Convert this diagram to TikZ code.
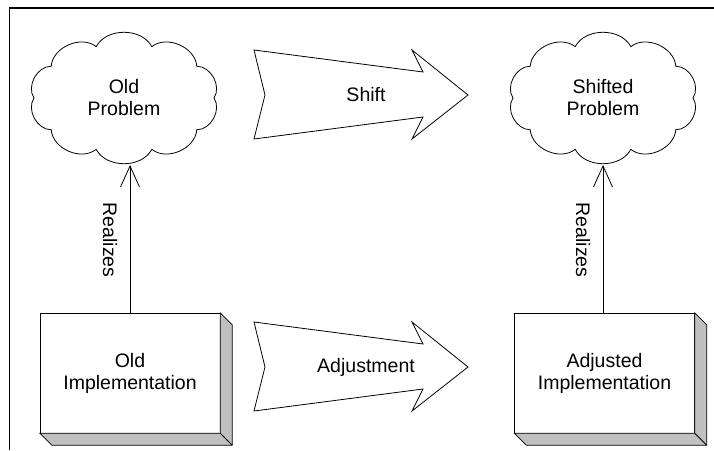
\documentclass[tikz,border=0pt]{standalone}
\usepackage{fontspec}
\setmainfont{Liberation Sans}
\usetikzlibrary{arrows.meta}
\definecolor{shade}{RGB}{192,192,192}
\tikzset{
  txt/.style={font=\fontsize{19.5}{22}\selectfont, align=center},
  cloudtext/.style={txt, minimum width=176pt, minimum height=110pt, inner sep=0pt},
  boxnode/.style={txt, draw, fill=white, minimum width=180pt, minimum height=120pt, inner sep=0pt},
  realize/.style={draw, line width=0.8pt, -{Straight Barb[length=21pt,width=19pt]}},
  fatline/.style={draw, line width=0.8pt},
}
\newcommand{\fatarrow}[1]{%
  \draw[fatline] (#1.center) +(-112,-45) -- +(-101,0) -- +(-112,44) -- +(57,22)
    -- +(46,44) -- +(102,0) -- +(46,-45) -- +(57,-23) -- cycle;}
\newcommand{\boxshade}[1]{%
  \draw[fatline, fill=shade] (#1.north east) -- ([shift={(12,12)}]#1.north east)
    -- ([shift={(12,12)}]#1.south east) -- ([shift={(12,12)}]#1.south west)
    -- (#1.south west) -- (#1.south east) -- cycle;
  \draw[fatline] (#1.south east) -- ([shift={(12,12)}]#1.south east);}
\newcommand{\cloudoutline}[1]{%
  \draw[fatline] (#1.center) +(0:90 and 54)
    \foreach \a in {36,72,...,360} { to[bend left=62] +(\a:90 and 54) };}
\begin{document}
\begin{tikzpicture}[x=1pt,y=-1pt]
\useasboundingbox (0,0) rectangle (714,450);
\coordinate (tl) at (9,8);
\coordinate (tr) at (714,8);
\coordinate (bl) at (9,450);
\draw[line width=2pt] (tl) -- (tr);
\draw[line width=1pt] (tl) -- (bl);

\node[cloudtext] (op) at (124,98) {Old\\Problem};
\node[cloudtext] (sp) at (603,98) {Shifted\\Problem};
\cloudoutline{op}
\cloudoutline{sp}

\node[boxnode] (oi) at (130,373) {Old\\Implementation};
\node[boxnode] (ai) at (604.5,373) {Adjusted\\Implementation};
\boxshade{oi}
\boxshade{ai}

\node[txt] (shift) at (366,95) {Shift};
\node[txt] (adj) at (366,367) {Adjustment};
\fatarrow{shift}
\fatarrow{adj}

\draw[realize] (oi.north) -- (oi.north |- 0,165);
\draw[realize] (ai.north -| 603,0) -- (603,165);
\node[txt, rotate=-90] (r1) at (110,240) {Realizes};
\node[txt, rotate=-90] (r2) at (583,240) {Realizes};
\end{tikzpicture}
\end{document}
